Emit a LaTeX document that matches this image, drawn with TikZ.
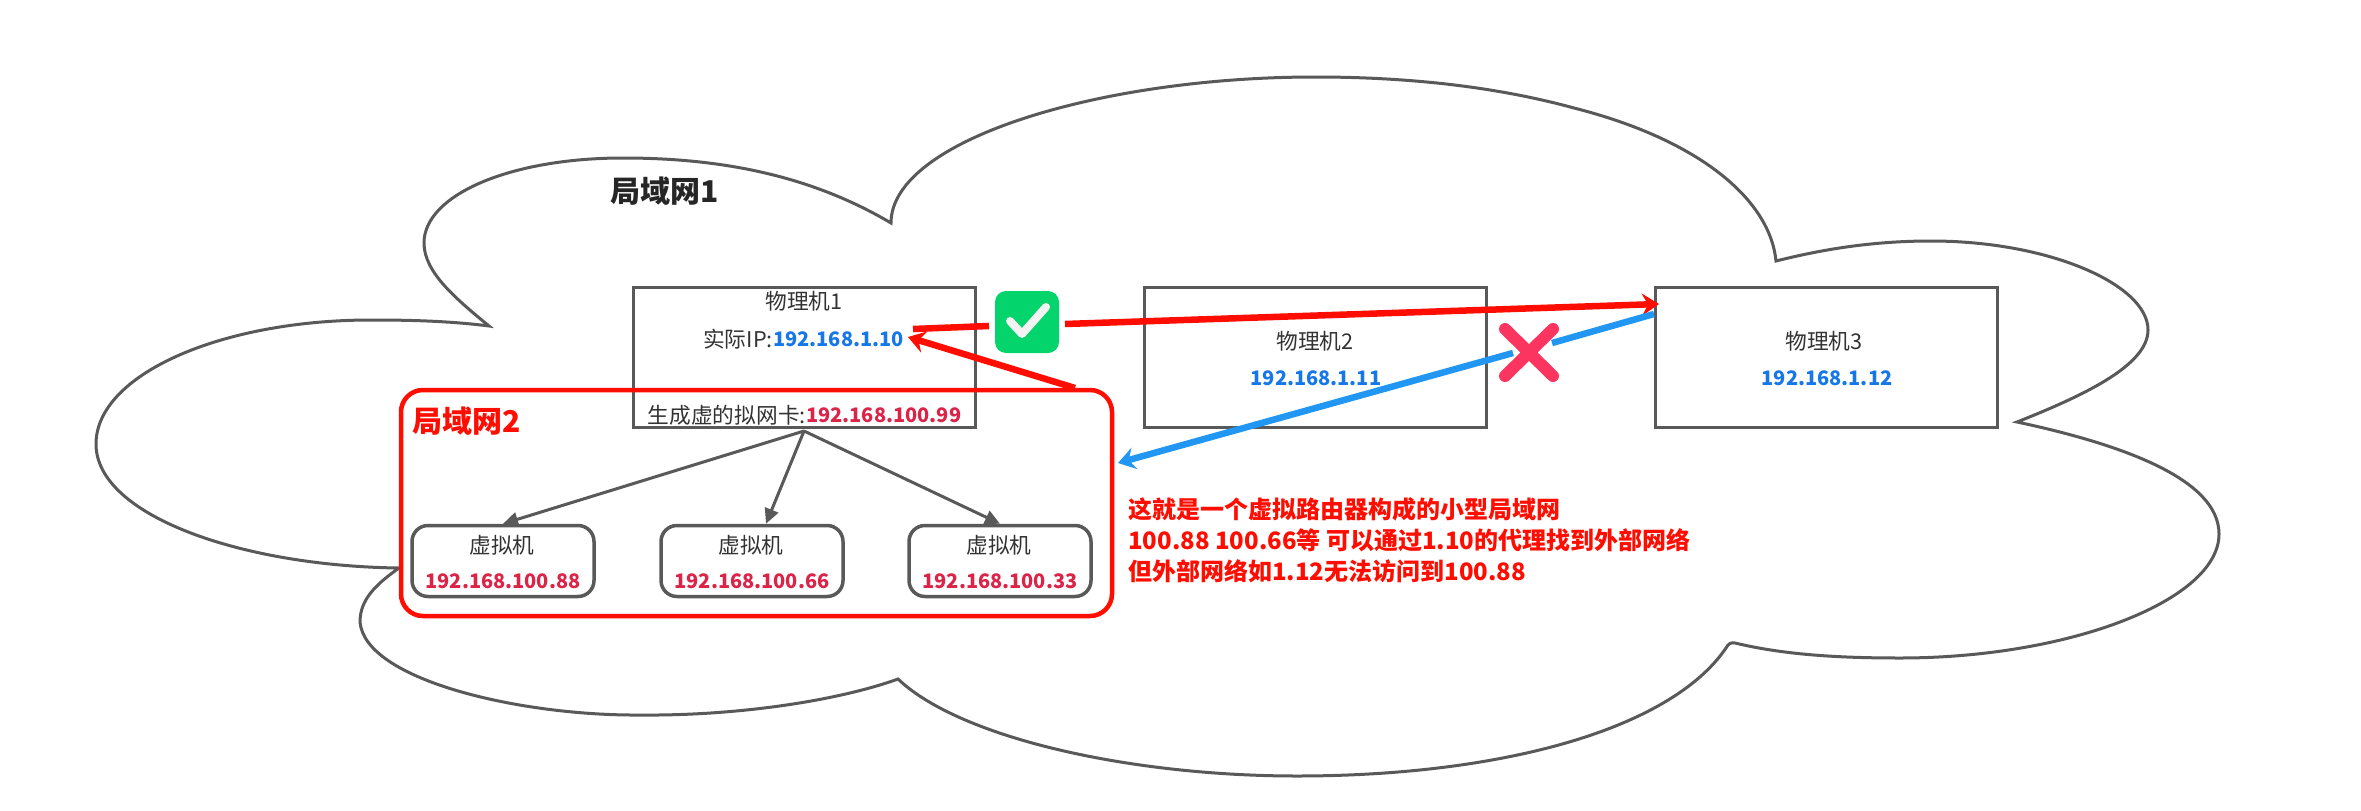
\documentclass[tikz,border=0pt]{standalone}
\usepackage{fontspec}
\setmainfont{Noto Sans CJK SC}
\usetikzlibrary{arrows.meta}
\definecolor{ln}{HTML}{595959}
\definecolor{rd}{HTML}{FF0D00}
\definecolor{bl}{HTML}{2196F3}
\definecolor{ipb}{HTML}{1677E8}
\definecolor{ipr}{HTML}{DC2348}
\definecolor{gr}{HTML}{04D46C}
\definecolor{xr}{HTML}{FB3460}
\definecolor{tx}{HTML}{333333}
\tikzset{
 pc/.style={draw=ln,line width=3.5pt,fill=white,minimum width=342pt,minimum height=140pt,inner sep=0pt},
 vm/.style={draw=ln,line width=3.5pt,rounded corners=16pt,fill=white,minimum width=182pt,minimum height=71pt,inner sep=0pt},
 lab/.style={font=\fontsize{21.7}{26}\selectfont,text=tx,inner sep=0pt},
 ipB/.style={font=\fontsize{20}{24}\selectfont\bfseries,text=ipb,inner sep=0pt},
 ipR/.style={font=\fontsize{20}{24}\selectfont\bfseries,text=ipr,inner sep=0pt},
 gl/.style={draw=ln,line width=3pt,-{Triangle[length=15pt,width=14pt]}},
 rl/.style={draw=rd,line width=6.5pt},
 bll/.style={draw=bl,line width=6.5pt}
}
\begin{document}
\begin{tikzpicture}[x=1pt,y=-1pt]
\useasboundingbox (0,0) rectangle (2361,811);
\path[draw=ln,line width=3pt,fill=white] (489,326)
 .. controls (450,321) and (410,320) .. (371,320)
 .. controls (220,320) and (96,375) .. (96,444)
 .. controls (96,515) and (240,566) .. (399,568)
 .. controls (375,585) and (360,600) .. (360,622)
 .. controls (365,680) and (520,716) .. (640,715)
 .. controls (740,716) and (840,700) .. (898,679)
 .. controls (960,738) and (1130,776) .. (1297,776)
 .. controls (1500,776) and (1670,730) .. (1726,648)
 .. controls (1728,644) and (1731,642) .. (1735,643)
 .. controls (1785,655) and (1840,658) .. (1900,658)
 .. controls (2070,658) and (2219,600) .. (2219,534)
 .. controls (2219,480) and (2125,445) .. (2017,422)
 .. controls (2085,395) and (2148,365) .. (2148,330)
 .. controls (2148,285) and (2050,241) .. (1931,241)
 .. controls (1870,241) and (1820,250) .. (1776,261)
 .. controls (1770,200) and (1700,140) .. (1574,108)
 .. controls (1490,85) and (1400,77) .. (1315,77)
 .. controls (1100,77) and (891,140) .. (891,223)
 .. controls (810,175) and (720,158) .. (623,158)
 .. controls (510,158) and (424,195) .. (424,243)
 .. controls (424,272) and (455,298) .. (489,326) -- cycle;
\node[inner sep=0pt,font=\fontsize{30}{36}\selectfont\bfseries,text=black!85] (lan1) at (665,191) {局域网1};
\node[pc] (p1) at (804.5,357.5) {};
\node[pc] (p2) at (1315.5,357.5) {};
\node[pc] (p3) at (1826.5,357.5) {};
\node[lab] (p1a) at (804,301) {物理机1};
\node[lab,anchor=east] (p1b) at (773,339) {实际IP:};
\node[ipB,anchor=west] (p1c) at (773,339) {192.168.1.10};
\node[lab,anchor=east] (p1d) at (806,415) {生成虚的拟网卡:};
\node[ipR,anchor=west] (p1e) at (806,415) {192.168.100.99};
\node[lab] (p2a) at (1315,341) {物理机2};
\node[ipB] (p2b) at (1316,378) {192.168.1.11};
\node[lab] (p3a) at (1824,341) {物理机3};
\node[ipB] (p3b) at (1827,378) {192.168.1.12};
\draw[draw=rd,line width=4.5pt,rounded corners=22pt] (401,390) rectangle (1112,616);
\node[inner sep=0pt,anchor=west,font=\fontsize{30}{36}\selectfont\bfseries,text=rd] (lan2) at (412,421) {局域网2};
\node[vm] (v1) at (503,561) {};
\node[vm] (v2) at (752,561) {};
\node[vm] (v3) at (1000,561) {};
\node[lab] at (502,545) {虚拟机};
\node[lab] at (751,545) {虚拟机};
\node[lab] at (999,545) {虚拟机};
\node[ipR] at (503,581) {192.168.100.88};
\node[ipR] at (752,581) {192.168.100.66};
\node[ipR] at (1000,581) {192.168.100.33};
\coordinate (hub) at (804,431);
\draw[gl] (hub) -- (v1.north);
\draw[gl] (hub) -- (v2.north -| 766,0);
\draw[gl] (hub) -- (v3.north);
\coordinate (t1) at (913,329);
\coordinate (t3) at (1659,304);
\draw[rl,-{Stealth[length=17pt,width=22pt,inset=6pt]}] (1065,324) -- (t3);
\draw[rl] (t1) -- (989,326);
\draw[rl,-{Stealth[length=17pt,width=22pt,inset=6pt]}] (1075,388) -- (908,337);
\draw[bll,-{Stealth[length=17pt,width=22pt,inset=6pt]}] (1513,353) -- (1118,463);
\draw[bll] (1654,314) -- (1552,343);
\path[fill=gr,rounded corners=11pt] (995,291) rectangle (1059,353);
\draw[white!95!black,line width=8pt,line cap=round,line join=round] (1010,321) -- (1022,334) -- (1046,307);
\draw[xr,line width=12pt,line cap=round] (1505,329) -- (1553,376) (1553,329) -- (1505,376);
\node[anchor=north west,align=left,inner sep=0pt,font=\fontsize{24}{31}\selectfont\bfseries,text=rd] (note) at (1128,497) {这就是一个虚拟路由器构成的小型局域网\\100.88 100.66等 可以通过1.10的代理找到外部网络\\但外部网络如1.12无法访问到100.88};
\end{tikzpicture}
\end{document}
